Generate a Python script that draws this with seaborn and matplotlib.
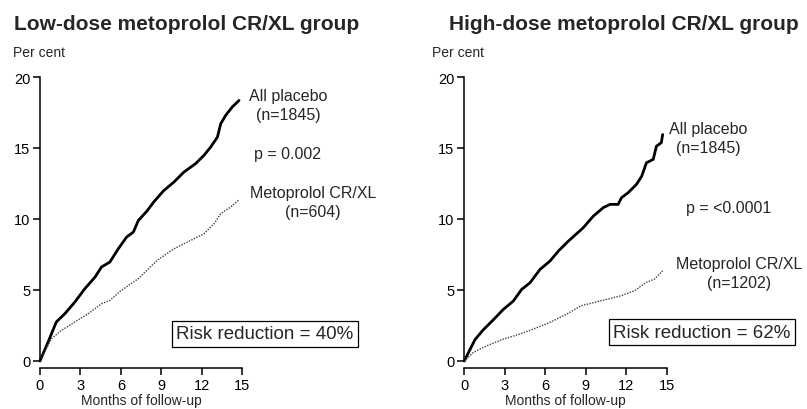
import matplotlib
matplotlib.use("Agg")
import matplotlib.pyplot as plt
import seaborn as sns
import pandas as pd

# ---- data ----
low_placebo_months = [0, 0.6, 1.21, 1.84, 2.58, 3.32, 4.07, 4.56, 5.18, 5.8, 6.42, 6.92, 7.29, 7.91,
                      8.43, 9.17, 9.92, 10.66, 11.53, 12.15, 12.65, 13.15, 13.39, 13.76, 14.26, 14.75]
low_placebo_pct = [0, 1.34, 2.75, 3.33, 4.15, 5.09, 5.9, 6.62, 6.97, 7.9, 8.73, 9.08, 9.9, 10.54,
                   11.2, 12.0, 12.6, 13.3, 13.9, 14.48, 15.07, 15.77, 16.7, 17.3, 17.9, 18.35]

low_meto_months = [0, 0.84, 1.59, 2.58, 3.57, 4.56, 5.18, 5.93, 6.55, 7.29, 7.91, 8.68, 9.92,
                   11.16, 12.15, 12.9, 13.39, 14.14, 14.75]
low_meto_pct = [0, 1.57, 2.15, 2.75, 3.33, 4.03, 4.27, 4.9, 5.32, 5.8, 6.38, 7.08, 7.9,
                8.49, 8.96, 9.67, 10.37, 10.85, 11.36]

high_placebo_months = [0, 0.18, 0.79, 1.41, 2.15, 2.89, 3.63, 4.25, 4.87, 5.61, 6.35, 6.97, 7.71,
                       8.82, 9.56, 10.3, 10.8, 11.4, 11.65, 12.14, 12.76, 13.15, 13.5, 14.0, 14.24,
                       14.6, 14.7]
high_placebo_pct = [0, 0.35, 1.5, 2.2, 2.9, 3.63, 4.22, 5.04, 5.51, 6.45, 7.04, 7.74, 8.44,
                    9.39, 10.2, 10.8, 11.03, 11.03, 11.5, 11.85, 12.44, 13.02, 13.96, 14.2, 15.13,
                    15.37, 15.95]

high_meto_months = [0, 0.67, 1.66, 2.89, 4.13, 5.12, 6.35, 7.59, 8.65, 10.13, 11.6, 12.6, 13.47,
                    14.08, 14.7]
high_meto_pct = [0, 0.6, 1.07, 1.54, 1.9, 2.25, 2.72, 3.3, 3.89, 4.24, 4.59, 4.94, 5.53,
                 5.76, 6.35]

titles = ["Low-dose metoprolol CR/XL group", "High-dose metoprolol CR/XL group"]
placebo_labels = ["All placebo\n(n=1845)", "All placebo\n(n=1845)"]
meto_labels = ["Metoprolol CR/XL\n(n=604)", "Metoprolol CR/XL\n(n=1202)"]
p_labels = ["p = 0.002", "p = <0.0001"]
rr_labels = ["Risk reduction = 40%", "Risk reduction = 62%"]
x_ticks = [0, 3, 6, 9, 12, 15]
y_ticks = [0, 5, 10, 15, 20]

sns.set_style("ticks")
plt.rcParams["font.family"] = ["Liberation Sans", "DejaVu Sans"]

W, H = 807, 410
fig = plt.figure(figsize=(W / 100, H / 100), dpi=100)

def fx(px):
    return px / W

def fy(py):
    return 1 - py / H

axes_left_px = [40, 464.3]
panels = [
    (low_placebo_months, low_placebo_pct, low_meto_months, low_meto_pct),
    (high_placebo_months, high_placebo_pct, high_meto_months, high_meto_pct),
]

for i, (pm, pp, mm, mp) in enumerate(panels):
    ax = fig.add_axes([fx(axes_left_px[i]), fy(362), 202.4 / W, 284 / H])
    df_p = pd.DataFrame({"m": pm, "v": pp})
    df_m = pd.DataFrame({"m": mm, "v": mp})
    sns.lineplot(data=df_p, x="m", y="v", ax=ax, color="black", linewidth=2.0,
                 estimator=None, sort=False, clip_on=False)
    sns.lineplot(data=df_m, x="m", y="v", ax=ax, color="#404040", linewidth=1.0,
                 linestyle=(0, (1, 1)), estimator=None, sort=False, clip_on=False)
    ax.set_xlim(0, 15)
    ax.set_ylim(0, 20)
    ax.set_xticks(x_ticks)
    ax.set_yticks(y_ticks)
    ax.set_xticklabels([str(t) for t in x_ticks])
    ax.set_yticklabels([str(t) for t in y_ticks])
    for s in ["top", "right"]:
        ax.spines[s].set_visible(False)
    ax.spines["bottom"].set_position(("outward", 5))
    ax.spines["bottom"].set_bounds(0, 15)
    ax.spines["left"].set_bounds(0, 20)
    for s in ["left", "bottom"]:
        ax.spines[s].set_linewidth(1.1)
        ax.spines[s].set_color("black")
    ax.tick_params(direction="out", length=5, width=1.1, labelsize=10.5, pad=2,
                   colors="black")
    ax.set_xlabel("Months of follow-up", fontsize=10, labelpad=1)
    ax.set_ylabel("")
    ax.set_facecolor("white")

# titles & y-axis caption
fig.text(fx(14), fy(30), titles[0], fontsize=15, fontweight="bold", ha="left", va="baseline")
fig.text(fx(449), fy(30), titles[1], fontsize=15, fontweight="bold", ha="left", va="baseline")
fig.text(fx(13), fy(57), "Per cent", fontsize=10, ha="left", va="baseline")
fig.text(fx(432), fy(57), "Per cent", fontsize=10, ha="left", va="baseline")

# left annotations
fs = 11.5
fig.text(fx(288), fy(106), placebo_labels[0], fontsize=fs, ha="center", va="center",
         multialignment="center", linespacing=1.3)
fig.text(fx(288), fy(155), p_labels[0], fontsize=fs, ha="center", va="center")
fig.text(fx(313), fy(203), meto_labels[0], fontsize=fs, ha="center", va="center",
         multialignment="center", linespacing=1.3)
fig.text(fx(265), fy(335), rr_labels[0], fontsize=13.5, ha="center", va="center",
         bbox=dict(boxstyle="square,pad=0.22", fc="white", ec="black", lw=0.9))

# right annotations
fig.text(fx(708), fy(139), placebo_labels[1], fontsize=fs, ha="center", va="center",
         multialignment="center", linespacing=1.3)
fig.text(fx(729), fy(209), p_labels[1], fontsize=fs, ha="center", va="center")
fig.text(fx(739), fy(274), meto_labels[1], fontsize=fs, ha="center", va="center",
         multialignment="center", linespacing=1.3)
fig.text(fx(702), fy(333), rr_labels[1], fontsize=13.5, ha="center", va="center",
         bbox=dict(boxstyle="square,pad=0.22", fc="white", ec="black", lw=0.9))

fig.savefig("out.png", dpi=100, facecolor="white")
